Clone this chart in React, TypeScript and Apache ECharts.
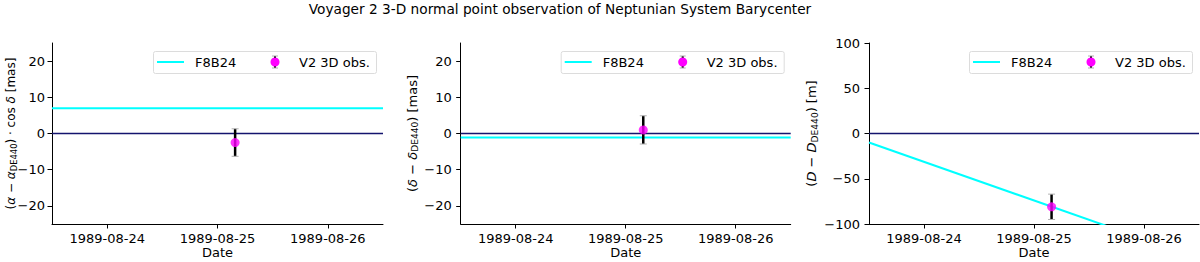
import React, { useEffect, useRef } from 'react';
import * as echarts from 'echarts';

const TITLE = 'Voyager 2 3-D normal point observation of Neptunian System Barycenter';
const X_START = '1989-08-23T12:00:00Z';
const X_END = '1989-08-26T12:00:00Z';
const DATE_TICKS = ['1989-08-24', '1989-08-25', '1989-08-26'];
const OBS_DATES = ['1989-08-25T03:50:00Z'];
const MODEL_DATES = [X_START, X_END];

const RA_OBS = [-2.5];
const RA_ERR = [3.8];
const DEC_OBS = [1.0];
const DEC_ERR = [3.9];
const DIST_OBS = [-81];
const DIST_ERR = [14];

const RA_F8B24 = [7.0, 7.0];
const DEC_F8B24 = [-1.1, -1.1];
const DIST_F8B24 = [-10, -138];

const MAS_TICKS = [-20, -10, 0, 10, 20];
const M_TICKS = [-100, -50, 0, 50, 100];

const LEGEND_LABELS = ['F8B24', 'V2 3D obs.'];

const FONT = 'DejaVu Sans';
const CYAN = '#00ffff';
const MAGENTA = '#ff00ff';
const NAVY = '#14146e';

const ms = (s: string) => Date.parse(s.length === 10 ? s + 'T00:00:00Z' : s);

const panels = [
  {
    left: 52, width: 331, ymin: -25, ymax: 25, ticks: MAS_TICKS, obs: RA_OBS, err: RA_ERR, model: RA_F8B24,
    name: '{n|(}{i|α}{n| − }{i|α}{s|DE440}{n|) · cos }{i|δ}{n| [mas]}', nameGap: 34, fs: 12, tickMargin: 7,
  },
  {
    left: 460.7, width: 330, ymin: -25, ymax: 25, ticks: MAS_TICKS, obs: DEC_OBS, err: DEC_ERR, model: DEC_F8B24,
    name: '{n|(}{i|δ}{n| − }{i|δ}{s|DE440}{n|) [mas]}', nameGap: 41, fs: 13, tickMargin: 9,
  },
  {
    left: 869, width: 330, ymin: -100, ymax: 100, ticks: M_TICKS, obs: DIST_OBS, err: DIST_ERR, model: DIST_F8B24,
    name: '{n|(}{i|D}{n| − }{i|D}{s|DE440}{n|) [m]}', nameGap: 50, fs: 13, tickMargin: 9,
  },
];

const TOP = 43;
const HEIGHT = 181;

export default function App() {
  const ref = useRef<HTMLDivElement>(null);
  useEffect(() => {
    if (!ref.current) return;
    const chart = echarts.init(ref.current, undefined, { renderer: 'svg' });
    const xTicks = DATE_TICKS.map(ms);
    const fmtY = (v: number) => (v < 0 ? '\u2212' + Math.abs(v) : String(v));
    const makeRich = (fs: number) => ({
      n: { fontFamily: FONT, fontSize: fs, color: '#000', lineHeight: fs + 2 },
      i: { fontFamily: FONT, fontSize: fs, fontStyle: 'italic', color: '#000', lineHeight: fs + 2 },
      s: { fontFamily: FONT, fontSize: fs * 0.7, color: '#000', lineHeight: fs * 0.55, verticalAlign: 'bottom' },
    });

    const grid: any[] = [];
    const xAxis: any[] = [];
    const yAxis: any[] = [];
    const series: any[] = [];
    const graphic: any[] = [];

    panels.forEach((p, k) => {
      grid.push({ left: p.left, width: p.width, top: TOP, height: HEIGHT, containLabel: false, outerBoundsMode: 'none' });
      xAxis.push({
        type: 'value', gridIndex: k, min: ms(X_START), max: ms(X_END),
        name: 'Date', nameLocation: 'middle', nameGap: 22, nameMoveOverlap: false,
        nameTextStyle: { fontFamily: FONT, fontSize: 13, lineHeight: 13, color: '#000' },
        axisLine: { show: true, onZero: false, lineStyle: { color: '#000', width: 1 } },
        axisTick: { show: true, length: 4.5, customValues: xTicks, lineStyle: { color: '#000' } },
        axisLabel: {
          customValues: xTicks, margin: 8, fontFamily: FONT, fontSize: 13, lineHeight: 13, color: '#000',
          formatter: (v: number) => new Date(v).toISOString().slice(0, 10),
        },
        splitLine: { show: false },
      });
      yAxis.push({
        type: 'value', gridIndex: k, min: p.ymin, max: p.ymax,
        name: p.name, nameLocation: 'middle', nameGap: p.nameGap, nameRotate: 90, nameMoveOverlap: false,
        nameTextStyle: { rich: makeRich(p.fs) },
        axisLine: { show: true, onZero: false, lineStyle: { color: '#000', width: 1 } },
        axisTick: { show: true, length: 4.5, customValues: p.ticks, lineStyle: { color: '#000' } },
        axisLabel: { customValues: p.ticks, margin: p.tickMargin, fontFamily: FONT, fontSize: 13, color: '#000', formatter: fmtY },
        splitLine: { show: false },
      });
      series.push({
        type: 'line', name: 'DE440', xAxisIndex: k, yAxisIndex: k, z: 1,
        data: MODEL_DATES.map((d) => [ms(d), 0]),
        symbol: 'none', lineStyle: { color: NAVY, width: 1.5 }, silent: true,
      });
      series.push({
        type: 'line', name: LEGEND_LABELS[0], xAxisIndex: k, yAxisIndex: k, z: 2,
        data: MODEL_DATES.map((d, i) => [ms(d), p.model[i]]),
        symbol: 'none', lineStyle: { color: CYAN, width: 2 }, clip: true,
      });
      series.push({
        type: 'custom', name: LEGEND_LABELS[1] + ' err', xAxisIndex: k, yAxisIndex: k, z: 3,
        data: OBS_DATES.map((d, i) => [ms(d), p.obs[i], p.err[i]]),
        renderItem: (params: any, api: any) => {
          const x = api.value(0);
          const y = api.value(1);
          const e = api.value(2);
          const t = api.coord([x, y + e]);
          const b = api.coord([x, y - e]);
          const cap = 3.5;
          return {
            type: 'group',
            children: [
              { type: 'line', shape: { x1: t[0], y1: t[1], x2: b[0], y2: b[1] }, style: { stroke: '#000', lineWidth: 2.5 } },
              { type: 'line', shape: { x1: t[0] - cap, y1: t[1], x2: t[0] + cap, y2: t[1] }, style: { stroke: '#b0b0b0', lineWidth: 1 } },
              { type: 'line', shape: { x1: b[0] - cap, y1: b[1], x2: b[0] + cap, y2: b[1] }, style: { stroke: '#b0b0b0', lineWidth: 1 } },
            ],
          };
        },
      });
      series.push({
        type: 'scatter', name: LEGEND_LABELS[1], xAxisIndex: k, yAxisIndex: k, z: 4,
        data: OBS_DATES.map((d, i) => [ms(d), p.obs[i]]),
        symbol: 'circle', symbolSize: 9, itemStyle: { color: MAGENTA },
      });

      const lx = p.left + p.width - 7 - 223;
      const ly = 51;
      const cy = ly + 11;
      graphic.push(
        { type: 'rect', left: lx, top: ly, shape: { x: 0, y: 0, width: 223, height: 22, r: 2 }, style: { fill: 'rgba(255,255,255,0.8)', stroke: '#dcdcdc', lineWidth: 1 } },
        { type: 'line', shape: { x1: lx + 4, y1: cy, x2: lx + 31, y2: cy }, style: { stroke: CYAN, lineWidth: 2 } },
        { type: 'text', x: lx + 42, y: cy, style: { text: LEGEND_LABELS[0], font: `13px "${FONT}"`, fill: '#000', verticalAlign: 'middle' } },
        { type: 'line', shape: { x1: lx + 122, y1: cy - 6, x2: lx + 122, y2: cy + 6 }, style: { stroke: '#000', lineWidth: 2 } },
        { type: 'line', shape: { x1: lx + 119, y1: cy - 6, x2: lx + 125, y2: cy - 6 }, style: { stroke: '#b0b0b0', lineWidth: 1 } },
        { type: 'line', shape: { x1: lx + 119, y1: cy + 6, x2: lx + 125, y2: cy + 6 }, style: { stroke: '#b0b0b0', lineWidth: 1 } },
        { type: 'circle', shape: { cx: lx + 122, cy, r: 4.5 }, style: { fill: MAGENTA } },
        { type: 'text', x: lx + 146, y: cy, style: { text: LEGEND_LABELS[1], font: `13px "${FONT}"`, fill: '#000', verticalAlign: 'middle' } },
      );
    });

    graphic.push({
      type: 'text', x: 560, y: 2,
      style: { text: TITLE, font: `13.7px "${FONT}"`, fill: '#000', textAlign: 'center', textVerticalAlign: 'top' },
    });

    chart.setOption({
      animation: false,
      backgroundColor: '#fff',
      grid, xAxis, yAxis, series, graphic,
    });
    return () => chart.dispose();
  }, []);
  return <div ref={ref} style={{ position: 'absolute', left: 0, top: 0, width: 1200, height: 262 }} />;
}
